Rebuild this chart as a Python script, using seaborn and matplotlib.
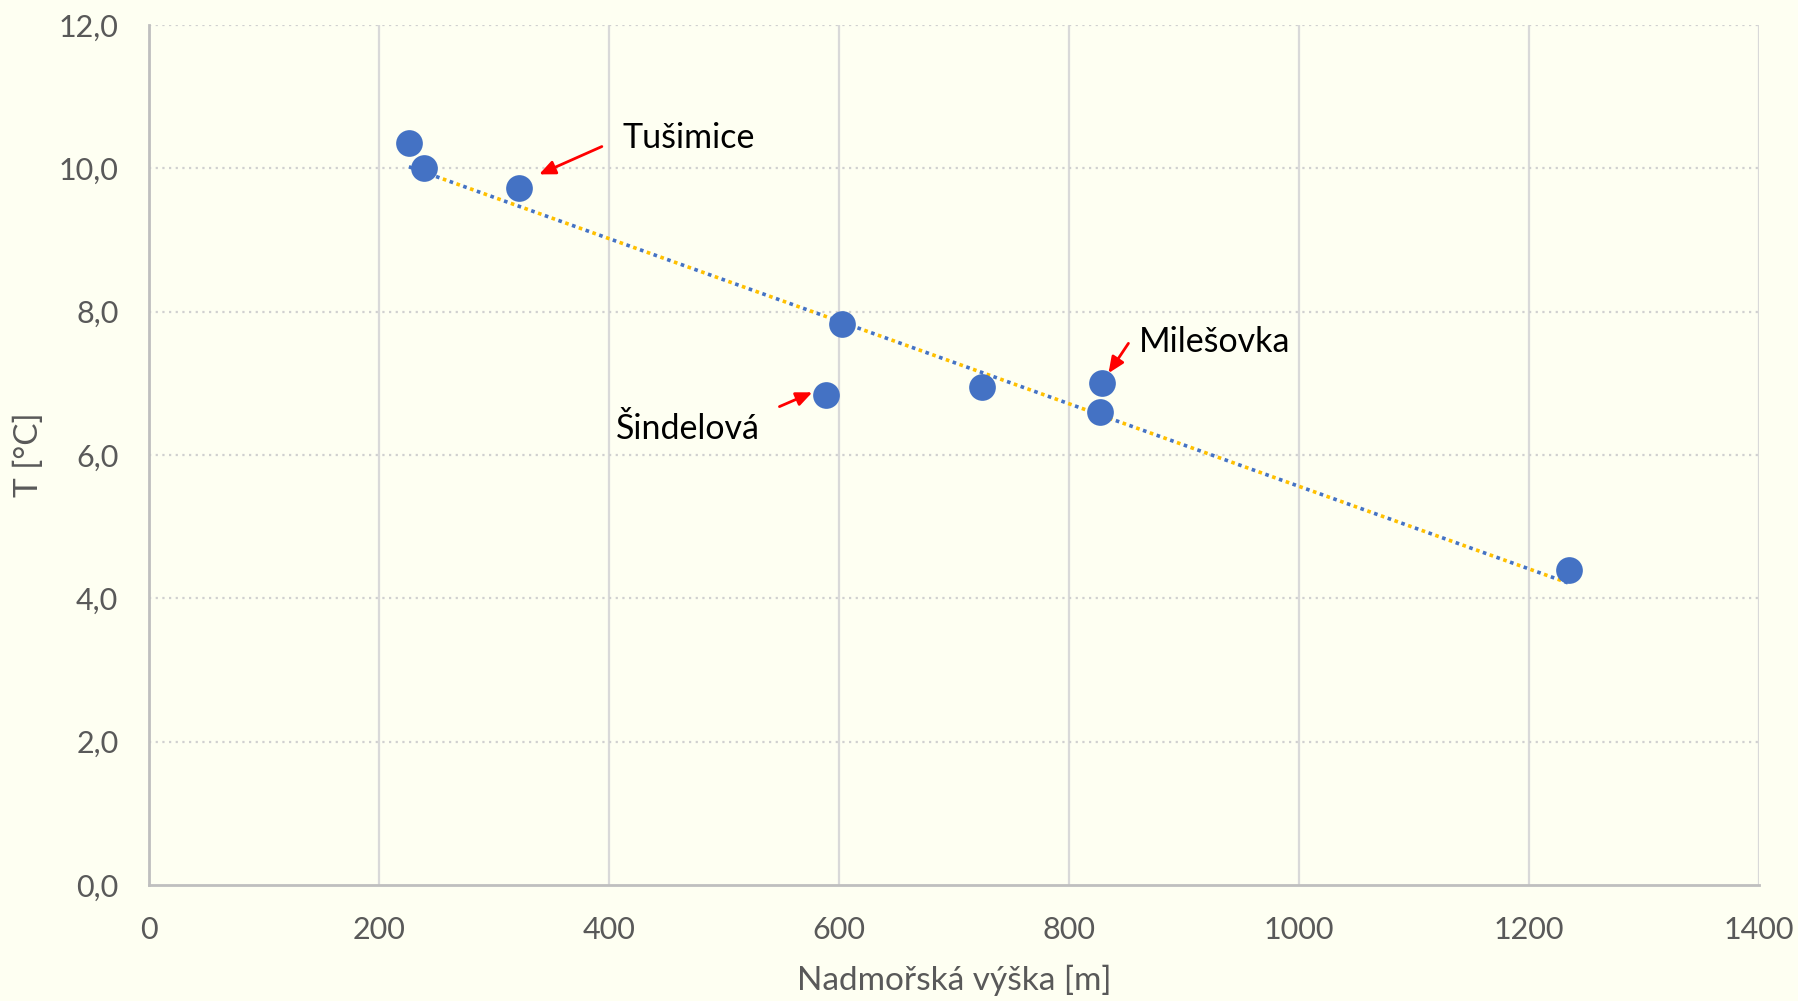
import numpy as np
import pandas as pd
import matplotlib
matplotlib.use("Agg")
import matplotlib.pyplot as plt
import seaborn as sns

# Data
altitude = [226, 239, 322, 603, 589, 724, 829, 827, 1235]
temperature = [10.35, 10.01, 9.72, 7.83, 6.84, 6.95, 7.00, 6.60, 4.39]
x_ticks = [0, 200, 400, 600, 800, 1000, 1200, 1400]
y_ticks = [0, 2, 4, 6, 8, 10, 12]
stations = ["Tušimice", "Milešovka", "Šindelová"]
station_text_xy = [(412, 10.43), (861, 7.58), (406, 6.36)]
arrow_tail = [(396, 10.32), (853, 7.59), (546, 6.66)]
arrow_head = [(337, 9.90), (833, 7.11), (579, 6.89)]

df = pd.DataFrame({"alt": altitude, "T": temperature})

sns.set_theme(style="white")
plt.rcParams['font.family'] = ['Lato', 'DejaVu Sans']

bg = "#FEFFF2"
fig = plt.figure(figsize=(17.99, 10.01), dpi=100, facecolor=bg)
ax = fig.add_axes([0.0828, 0.1159, 0.8950, 0.8591])
ax.set_facecolor(bg)

# grid
for xt in x_ticks[1:]:
    ax.axvline(xt, color="#D9D9D9", lw=1.6, zorder=0)
for yt in y_ticks[1:]:
    ax.axhline(yt, color="#D0D0D0", lw=1.6, ls=(0, (1, 2)), zorder=0)

# trend line
coef = np.polyfit(df["alt"], df["T"], 1)
xs = np.array([min(altitude), max(altitude)])
ys = np.polyval(coef, xs)
ax.plot(xs, ys, color="#4472C4", lw=2.6, ls=(0, (1, 3)), zorder=2)
ax.plot(xs, ys, color="#FFC000", lw=2.6, ls=(2, (1, 3)), zorder=2)

sns.scatterplot(data=df, x="alt", y="T", ax=ax, s=370, color="#4472C4",
                edgecolor="#4472C4", linewidth=0, zorder=3)

ax.set_xlim(0, 1400)
ax.set_ylim(0, 12)
ax.set_xticks(x_ticks)
ax.set_yticks(y_ticks)
ax.set_yticklabels([f"{v:.1f}".replace(".", ",") for v in y_ticks])
ax.tick_params(axis="both", labelsize=22, colors="#595959", length=0)
ax.tick_params(axis="x", pad=22)
ax.tick_params(axis="y", pad=22)

for s in ["top", "right"]:
    ax.spines[s].set_visible(False)
for s in ["left", "bottom"]:
    ax.spines[s].set_color("#BFBFBF")
    ax.spines[s].set_linewidth(2)

ax.set_xlabel("Nadmořská výška [m]", fontsize=24, color="#595959", va="center")
ax.set_ylabel("T [°C]", fontsize=24, color="#595959", va="center")
ax.xaxis.set_label_coords(0.5, -0.111)
ax.yaxis.set_label_coords(-0.0747, 0.5)

for name, txy, tail, head in zip(stations, station_text_xy, arrow_tail, arrow_head):
    ax.text(txy[0], txy[1], name, fontsize=24.5, color="black", va="center", ha="left")
    ax.annotate("", xy=head, xytext=tail,
                arrowprops=dict(arrowstyle="-|>,head_length=0.8,head_width=0.35",
                                color="#FF0000", lw=2))

fig.savefig("out.png", dpi=100, facecolor=bg)
